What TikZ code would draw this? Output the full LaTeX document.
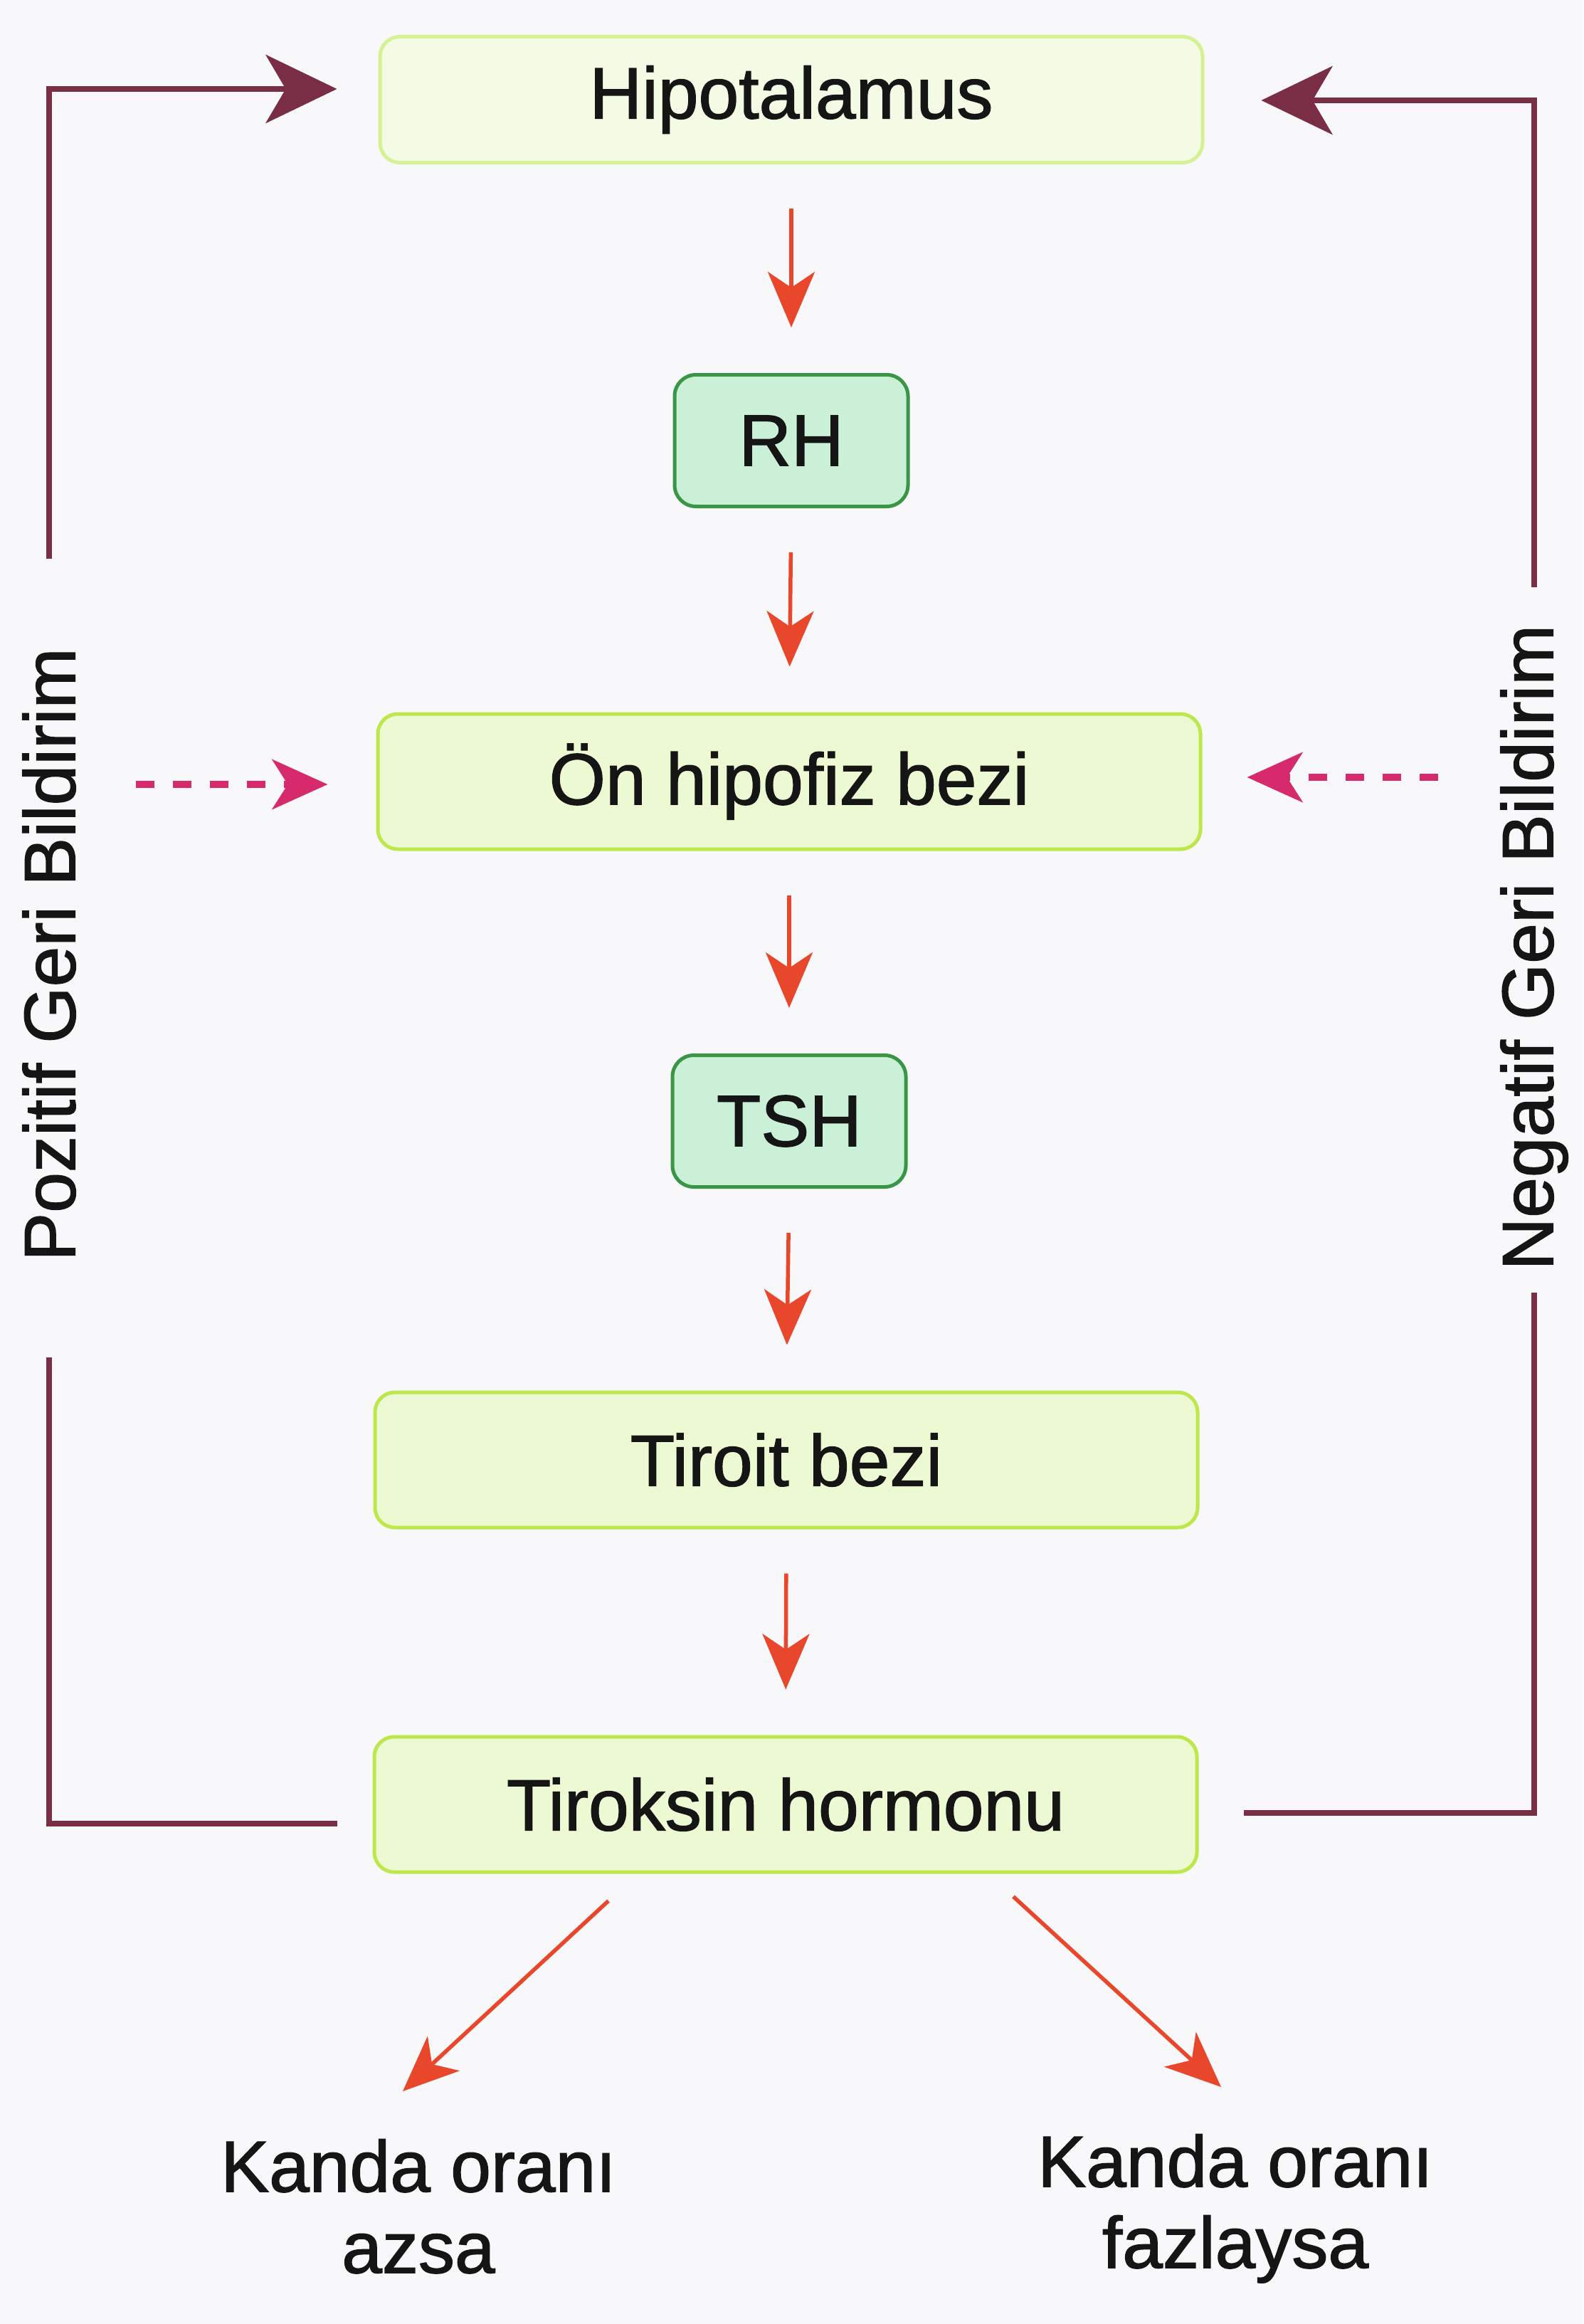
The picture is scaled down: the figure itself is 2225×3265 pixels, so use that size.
\documentclass[tikz,border=0pt]{standalone}
\usepackage{fontspec}
\setmainfont{Liberation Sans}[FakeBold=1.4]
\usetikzlibrary{arrows.meta}
\definecolor{bg}{HTML}{F8F7F9}
\definecolor{limeF}{HTML}{ECF9D2}
\definecolor{limeB}{HTML}{BDE84C}
\definecolor{limeFl}{HTML}{F3FBE4}
\definecolor{limeBl}{HTML}{D4F294}
\definecolor{greenF}{HTML}{CBF0D8}
\definecolor{greenB}{HTML}{3A9646}
\definecolor{redA}{HTML}{E8472B}
\definecolor{maroon}{HTML}{7A2E45}
\definecolor{magA}{HTML}{D62A6C}
\definecolor{ink}{HTML}{151515}
\newcommand{\bigfont}{\fontsize{102}{114}\selectfont}
\begin{document}
\begin{tikzpicture}[x=1pt,y=-1pt,
  every node/.style={text=ink, font=\bigfont},
  bigbox/.style={draw=limeB, fill=limeF, line width=5pt, rounded corners=28pt,
    minimum width=1156pt, minimum height=190pt, inner sep=0pt},
  smallbox/.style={draw=greenB, fill=greenF, line width=5pt, rounded corners=30pt,
    minimum width=328pt, minimum height=185pt, inner sep=0pt},
  redarr/.style={draw=redA, line width=5.5pt, -{Stealth[length=78pt,width=66pt,inset=22pt]},
    shorten <=62pt, shorten >=64pt},
  fbline/.style={draw=maroon, line width=8pt},
  fbtip/.style={-{Stealth[length=100pt,width=96pt,inset=28pt]}},
  dasharr/.style={draw=magA, line width=10pt, dash pattern=on 26pt off 26pt,
    -{Stealth[length=78pt,width=70pt,inset=22pt]}},
  sidetext/.style={rotate=90, inner sep=0pt},
  bottomtext/.style={align=center, anchor=north, inner sep=0pt},
]
\useasboundingbox[fill=bg] (0,0) rectangle (2225,3265);

% main boxes
\node[bigbox, draw=limeBl, fill=limeFl, minimum height=177pt] (hip) at (1112,140) {Hipotalamus};
\node[smallbox] (rh) at (1112,619) {RH};
\node[bigbox] (onh) at (1109,1098) {Ön hipofiz bezi};
\node[smallbox] (tsh) at (1109,1575) {TSH};
\node[bigbox] (tir) at (1105,2051) {Tiroit bezi};
\node[bigbox] (tik) at (1104,2535) {Tiroksin hormonu};

% bottom texts
\node[bottomtext] (kl) at (588,3005) {Kanda oranı\\azsa};
\node[bottomtext] (kr) at (1736,2998) {Kanda oranı\\fazlaysa};

% side texts
\node[sidetext] (poz) at (69,1341) {Pozitif Geri Bildirim};
\node[sidetext] (neg) at (2156,1331) {Negatif Geri Bildirim};

% main chain arrows
\draw[redarr] (hip.south) -- (rh.north);
\draw[redarr] (rh.south) -- (onh.north);
\draw[redarr] (onh.south) -- (tsh.north);
\draw[redarr] (tsh.south) -- (tir.north);
\draw[redarr] (tir.south) -- (tik.north);

% diagonal arrows
\draw[redarr, shorten <=0pt, shorten >=0pt] ([xshift=-249pt,yshift=-38pt]tik.south) -- ([xshift=-22pt,yshift=67pt]kl.north);
\draw[redarr, shorten <=0pt, shorten >=0pt] ([xshift=320pt,yshift=-32pt]tik.south) -- ([xshift=-20pt,yshift=66pt]kr.north);

% positive feedback (left)
\draw[fbline, shorten <=50pt, shorten >=135pt] ([yshift=-27pt]tik.west) -| (poz.west);
\draw[fbline, fbtip, shorten <=125pt, shorten >=58pt] (poz.east) |- ([yshift=15pt]hip.west);

% negative feedback (right)
\draw[fbline, shorten <=63pt, shorten >=31pt] ([yshift=-12pt]tik.east) -| (neg.west);
\draw[fbline, fbtip, shorten <=52pt, shorten >=80pt] (neg.east) |- ([yshift=-1pt]hip.east);

% dashed arrows
\coordinate (dl) at (191,1102);
\coordinate (dr) at (2021,1092);
\draw[dasharr, shorten >=68pt] (dl) -- (dl -| onh.west);
\draw[dasharr, shorten >=63pt] (dr) -- (dr -| onh.east);
\end{tikzpicture}
\end{document}
